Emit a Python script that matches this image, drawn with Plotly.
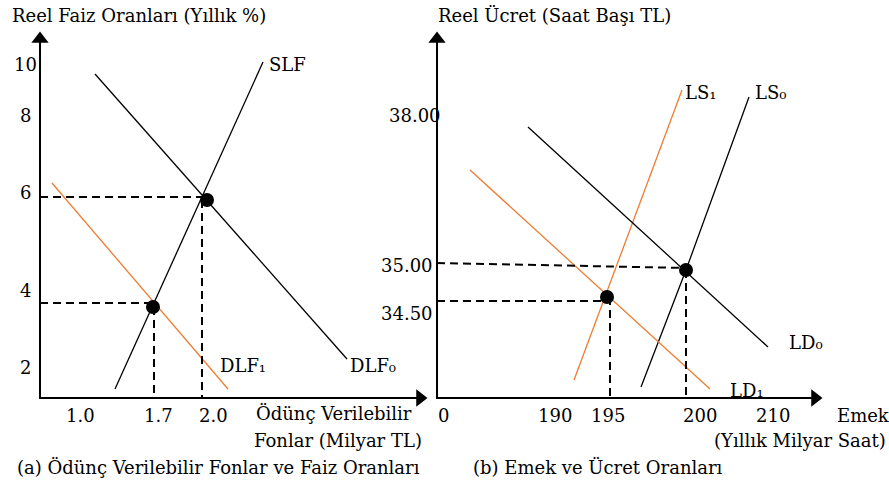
import plotly.graph_objects as go

# ---- diagram geometry (schematic, in canvas units) ----
# Panel (a)
a_axis_x = [40, 40, 420]
a_axis_y = [39, 398, 398]
slf_x = [115, 263]; slf_y = [389, 62]
dlf0_x = [95, 347]; dlf0_y = [74, 359]
dlf1_x = [52, 228]; dlf1_y = [183, 389]
a_eq_x = [207, 153]; a_eq_y = [200, 307]
a_hdash = [([40, 207], [197, 197]), ([40, 153], [303, 303])]
a_vdash = [([202, 202], [200, 398]), ([154, 154], [307, 398])]
a_ytick_labels = ["10", "8", "6", "4", "2"]
a_ytick_pos = [64, 115, 192, 290, 367]
a_xtick_labels = ["1.0", "1.7", "2.0"]
a_xtick_pos = [80, 158, 213]

# Panel (b)
b_axis_x = [437, 437, 815]
b_axis_y = [39, 398, 398]
ls1_x = [574, 682]; ls1_y = [380, 90]
ls0_x = [641, 686, 749]; ls0_y = [387, 270, 97]
ld0_x = [528, 768]; ld0_y = [127, 347]
ld1_x = [470, 710]; ld1_y = [170, 389]
b_eq_x = [686, 607]; b_eq_y = [270, 297]
b_hdash = [([437, 686], [263, 268]), ([437, 607], [301, 301])]
b_vdash = [([686, 686], [270, 398]), ([610, 610], [297, 398])]
b_ytick_labels = ["38.00", "35.00", "34.50"]
b_ytick_pos = [115, 265, 313]
b_ytick_right = [443, 435, 435]
b_xtick_labels = ["0", "190", "195", "200", "210"]
b_xtick_pos = [443, 555, 608, 700, 773]

ORANGE = "#ED7D31"
FONT = "DejaVu Serif"
FS = 18
W, H = 889, 482

fig = go.Figure()

def line(x, y, color="black", width=1.3, dash=None):
    fig.add_trace(go.Scatter(x=x, y=y, mode="lines", hoverinfo="skip",
                             line=dict(color=color, width=width, dash=dash),
                             showlegend=False))

# axes
line(a_axis_x, a_axis_y, width=2)
line(b_axis_x, b_axis_y, width=2)
fig.add_trace(go.Scatter(x=[a_axis_x[0], b_axis_x[0]], y=[a_axis_y[0], b_axis_y[0]],
                         mode="markers", marker=dict(symbol="triangle-up", size=15, color="black"),
                         showlegend=False, hoverinfo="skip"))
fig.add_trace(go.Scatter(x=[a_axis_x[-1], b_axis_x[-1]], y=[a_axis_y[-1], b_axis_y[-1]],
                         mode="markers", marker=dict(symbol="triangle-right", size=15, color="black"),
                         showlegend=False, hoverinfo="skip"))

# curves
line(slf_x, slf_y)
line(dlf0_x, dlf0_y)
line(dlf1_x, dlf1_y, color=ORANGE)
line(ls1_x, ls1_y, color=ORANGE)
line(ls0_x, ls0_y)
line(ld0_x, ld0_y)
line(ld1_x, ld1_y, color=ORANGE)

# dashed guides
for xs, ys in a_hdash + a_vdash + b_hdash + b_vdash:
    line(xs, ys, width=2, dash="8px,5px")

# equilibrium points
fig.add_trace(go.Scatter(x=a_eq_x + b_eq_x, y=a_eq_y + b_eq_y, mode="markers",
                         marker=dict(symbol="circle", size=14, color="black"),
                         showlegend=False, hoverinfo="skip"))

def txt(x, y, s, xanchor="center", size=FS):
    fig.add_annotation(x=x, y=y, text=s, showarrow=False, xanchor=xanchor, yanchor="middle",
                       font=dict(family=FONT, size=size, color="black"))

# panel (a) text
txt(10, 15, "Reel Faiz Oranları (Yıllık %)", "left")
for s, p in zip(a_ytick_labels, a_ytick_pos):
    txt(25, p, s)
for s, p in zip(a_xtick_labels, a_xtick_pos):
    txt(p, 415, s)
txt(334, 413, "Ödünç Verilebilir")
txt(338, 440, "Fonlar (Milyar TL)")
txt(218, 467, "(a) Ödünç Verilebilir Fonlar ve Faiz Oranları")
txt(267, 64, "SLF", "left")
txt(218, 365, "DLF₁", "left")
txt(348, 365, "DLF₀", "left")

# panel (b) text
txt(436, 15, "Reel Ücret (Saat Başı TL)", "left")
for s, p, r in zip(b_ytick_labels, b_ytick_pos, b_ytick_right):
    txt(r, p, s, "right")
for s, p in zip(b_xtick_labels, b_xtick_pos):
    txt(p, 415, s)
txt(835, 415, "Emek", "left")
txt(888, 440, "(Yıllık Milyar Saat)", "right")
txt(598, 467, "(b) Emek ve Ücret Oranları")
txt(683, 92, "LS₁", "left")
txt(753, 92, "LS₀", "left")
txt(787, 342, "LD₀", "left")
txt(728, 390, "LD₁", "left")

fig.update_layout(
    width=W, height=H,
    margin=dict(l=0, r=0, t=0, b=0),
    paper_bgcolor="white", plot_bgcolor="white",
    xaxis=dict(range=[0, W], visible=False, fixedrange=True),
    yaxis=dict(range=[H, 0], visible=False, fixedrange=True),
)
fig.write_html("out.html", config={"displayModeBar": False},
               post_script="document.body.style.margin='0';document.body.style.overflow='hidden';")
